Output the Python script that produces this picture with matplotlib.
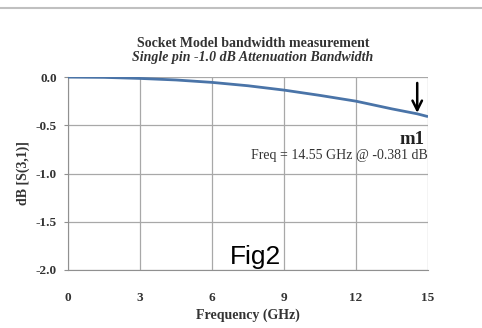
import matplotlib
matplotlib.use("Agg")
import matplotlib.pyplot as plt

# S(3,1) values
freq_ghz = [0, 1.5, 3, 4.5, 6, 7.5, 9, 10.5, 12, 13.5, 14.55, 15]
s31_db = [0, -0.003, -0.014, -0.03, -0.055, -0.09, -0.135, -0.19, -0.25, -0.33, -0.381, -0.41]
x_ticks = [0, 3, 6, 9, 12, 15]
y_ticks = [0.0, -0.5, -1.0, -1.5, -2.0]
marker_freq = 14.55
marker_db = -0.381

plt.rcParams['font.family'] = ['Liberation Serif', 'DejaVu Serif']

fig = plt.figure(figsize=(4.82, 3.28), dpi=100)
ax = fig.add_axes([0.141, 0.177, 0.747, 0.588])

ax.plot(freq_ghz, s31_db, color='#4a74a8', lw=2.0, solid_capstyle='butt', zorder=3)

ax.set_xlim(0, 15)
ax.set_ylim(-2.0, 0.0)
ax.set_xticks(x_ticks)
ax.set_yticks(y_ticks)
ax.set_yticklabels([f"{v:.1f}" for v in y_ticks])
ax.grid(True, color='#a8a8a8', lw=0.9)
ax.set_axisbelow(True)
for side in ['top', 'right']:
    ax.spines[side].set_visible(False)
ax.spines['left'].set_color('#909090')
ax.spines['bottom'].set_color('#909090')
ax.tick_params(axis='y', length=3, color='#909090', labelsize=9.5, labelcolor='#333333', pad=5)
ax.tick_params(axis='x', length=0, labelsize=9.5, labelcolor='#333333', pad=16)
for lbl in ax.get_xticklabels() + ax.get_yticklabels():
    lbl.set_fontweight('bold')

ax.set_xlabel("Frequency (GHz)", fontsize=10, fontweight='bold', color='#333333', labelpad=3)
ax.set_ylabel("dB [S(3,1)]", fontsize=10, fontweight='bold', color='#333333', labelpad=4)

fig.text(0.525, 0.868, "Socket Model bandwidth measurement", ha='center', va='center',
         fontsize=10, fontweight='bold', color='#333333')
fig.text(0.525, 0.826, "Single pin -1.0 dB Attenuation Bandwidth", ha='center', va='center',
         fontsize=10, fontweight='bold', style='italic', color='#333333')

# marker arrow and labels
ax.annotate("", xy=(marker_freq, marker_db + 0.01), xytext=(marker_freq, marker_db + 0.32),
            arrowprops=dict(arrowstyle='->', color='black', lw=1.8, mutation_scale=17,
                            shrinkA=0, shrinkB=0))
ax.text(14.85, -0.65, "m1", ha='right', va='center', fontsize=13.5, fontweight='bold', color='#222222')
ax.text(15.0, -0.81, "Freq = 14.55 GHz @ -0.381 dB", ha='right', va='center',
        fontsize=10, color='#333333')

fig.text(0.53, 0.215, "Fig2", ha='center', va='center', fontsize=19,
         family='Liberation Sans', color='black')

# top separator line
fig.add_artist(plt.Line2D([0, 1], [0.977, 0.977], color='#c0c0c0', lw=1.5))

fig.savefig("out.png", dpi=100)
